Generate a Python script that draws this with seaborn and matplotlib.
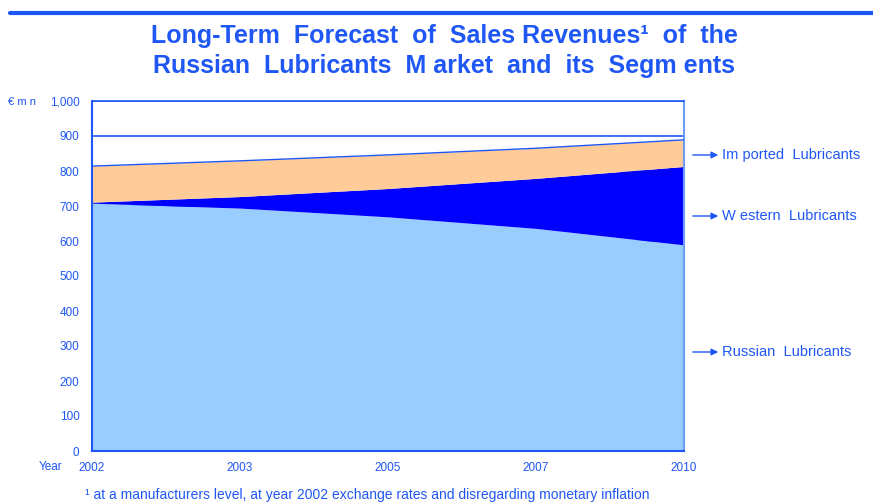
import pandas as pd
import seaborn as sns
import matplotlib.pyplot as plt
import matplotlib.lines as mlines

# data (EUR mn)
years = ['2002', '2003', '2005', '2007', '2010']
russian = [708, 694, 669, 636, 589]
western = [3, 33, 81, 143, 224]
imported = [103, 102, 96, 86, 76]
segment_names = ['Russian Lubricants', 'Western Lubricants', 'Imported Lubricants']
segment_colors = ['#99ccff', '#0000ff', '#ffcc99']

blue = '#1f57f5'

sns.set_style('white')
plt.rcParams['font.family'] = ['Liberation Sans', 'DejaVu Sans']

df = pd.DataFrame({'year': years, 'Russian': russian, 'Western': western, 'Imported': imported})
df['x'] = range(len(df))
df['lvl1'] = df['Russian']
df['lvl2'] = df['lvl1'] + df['Western']
df['lvl3'] = df['lvl2'] + df['Imported']

fig = plt.figure(figsize=(8.73, 5.04), dpi=100)
ax = fig.add_axes([92 / 873, 1 - 451 / 504, 592 / 873, 350 / 504])

ax.yaxis.grid(True, color=blue, linewidth=1.2, zorder=0)
ax.set_axisbelow(True)

ax.fill_between(df['x'], 0, df['lvl1'], color=segment_colors[0], linewidth=0, zorder=2)
ax.fill_between(df['x'], df['lvl1'], df['lvl2'], color=segment_colors[1], linewidth=0, zorder=2)
ax.fill_between(df['x'], df['lvl2'], df['lvl3'], color=segment_colors[2], linewidth=0, zorder=2)
sns.lineplot(data=df, x='x', y='lvl3', color=blue, linewidth=1.0, ax=ax, zorder=3)

ax.set_xlim(0, len(years) - 1)
ax.set_ylim(0, 1000)
ax.set_xticks(df['x'])
ax.set_xticklabels(years)
ax.set_yticks(range(0, 1001, 100))
ax.set_yticklabels([f'{v:,}' for v in range(0, 1001, 100)])
ax.set_xlabel('')
ax.set_ylabel('')
ax.tick_params(axis='both', colors=blue, labelcolor=blue, labelsize=8.5,
               length=4, width=1.2, direction='out')
ax.tick_params(axis='y', pad=5)
ax.tick_params(axis='x', pad=4)
for side in ['left', 'bottom', 'top']:
    ax.spines[side].set_color(blue)
    ax.spines[side].set_linewidth(1.5)
ax.spines['right'].set_color('#6b9bf5')
ax.spines['right'].set_linewidth(1.5)
ax.spines['top'].set_linewidth(1.2)

# header rule and title
fig.add_artist(mlines.Line2D([10 / 873, 1], [1 - 13 / 504] * 2, color=blue, linewidth=3))
fig.text(444 / 873, 1 - 36 / 504, 'Long-Term  Forecast  of  Sales Revenues¹  of  the',
         ha='center', va='center', fontsize=18, fontweight='bold', color=blue)
fig.text(444 / 873, 1 - 66 / 504, 'Russian  Lubricants  M arket  and  its  Segm ents',
         ha='center', va='center', fontsize=18, fontweight='bold', color=blue)

fig.text(8 / 873, 1 - 102 / 504, '€ m n', ha='left', va='center', fontsize=8, color=blue)
fig.text(39 / 873, 1 - 467 / 504, 'Year', ha='left', va='center', fontsize=8.5, color=blue)

# segment labels with arrows on the right
label_y = {'Imported Lubricants': 155, 'Western Lubricants': 216, 'Russian Lubricants': 352}
label_txt = {'Imported Lubricants': 'Im ported  Lubricants',
             'Western Lubricants': 'W estern  Lubricants',
             'Russian Lubricants': 'Russian  Lubricants'}
for name in segment_names:
    yy = 1 - label_y[name] / 504
    ax.annotate('', xy=(721 / 873, yy), xytext=(690 / 873, yy), xycoords='figure fraction',
                arrowprops=dict(arrowstyle='-|>', color=blue, lw=1.0, mutation_scale=10))
    fig.text(722 / 873, yy, label_txt[name], ha='left', va='center',
             fontsize=10.5, color=blue)

fig.text(85 / 873, 1 - 502 / 504,
         '¹ at a manufacturers level, at year 2002 exchange rates and disregarding monetary inflation',
         ha='left', va='bottom', fontsize=10, color=blue)

fig.savefig('out.png', dpi=100)
